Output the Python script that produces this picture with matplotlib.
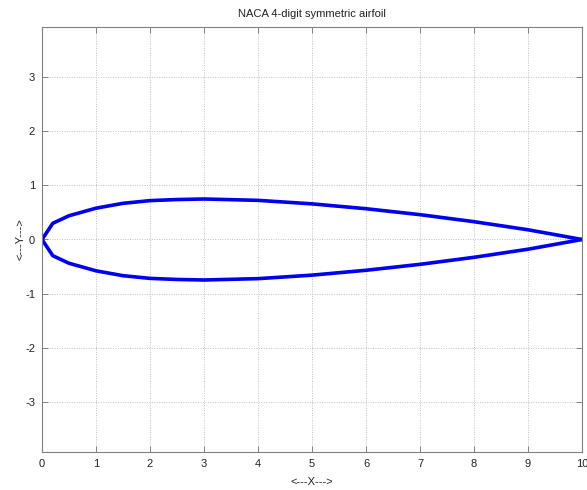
import matplotlib
matplotlib.use("Agg")
import matplotlib.pyplot as plt
import numpy as np

# Airfoil half-thickness (chord = 10)
x_pts = [0, 0.2, 0.5, 1.0, 1.5, 2.0, 2.5, 3.0, 4.0, 5.0, 6.0, 7.0, 8.0, 9.0, 10.0]
y_upper = [0, 0.30, 0.44, 0.58, 0.67, 0.72, 0.74, 0.75, 0.725, 0.66, 0.57, 0.46, 0.33, 0.18, 0.0]
y_lower = [-v for v in y_upper]

x_ticks = list(range(0, 11))
y_ticks = [-3, -2, -1, 0, 1, 2, 3]

plt.rcParams['font.family'] = ['Liberation Sans', 'DejaVu Sans']
plt.rcParams['axes.unicode_minus'] = False

fig = plt.figure(figsize=(5.87, 4.90), dpi=100)
ax = fig.add_axes([42/587, 38/490, 540/587, 425/490])

ax.plot(x_pts, y_upper, color='#0000f0', lw=2.6, solid_joinstyle='round')
ax.plot(x_pts, y_lower, color='#0000f0', lw=2.6, solid_joinstyle='round')

ax.set_xlim(0, 10)
ax.set_ylim(-3.935, 3.935)
ax.set_xticks(x_ticks)
ax.set_yticks(y_ticks)
ax.grid(True, linestyle=(0, (1, 1.5)), color='#c0c0c0', linewidth=0.7)
ax.tick_params(direction='in', top=True, right=True, length=4, width=0.6,
               colors='#707070', labelcolor='#222222', labelsize=8, pad=5)
for s in ax.spines.values():
    s.set_color('#808080')
    s.set_linewidth(0.8)

ax.set_title('NACA 4-digit symmetric airfoil', fontsize=8, pad=7, color='#222222')
ax.set_xlabel('<---X--->', fontsize=8, labelpad=6, color='#222222')
ax.set_ylabel('<---Y--->', fontsize=8, labelpad=0, color='#222222')

fig.savefig('out.png', dpi=100)
